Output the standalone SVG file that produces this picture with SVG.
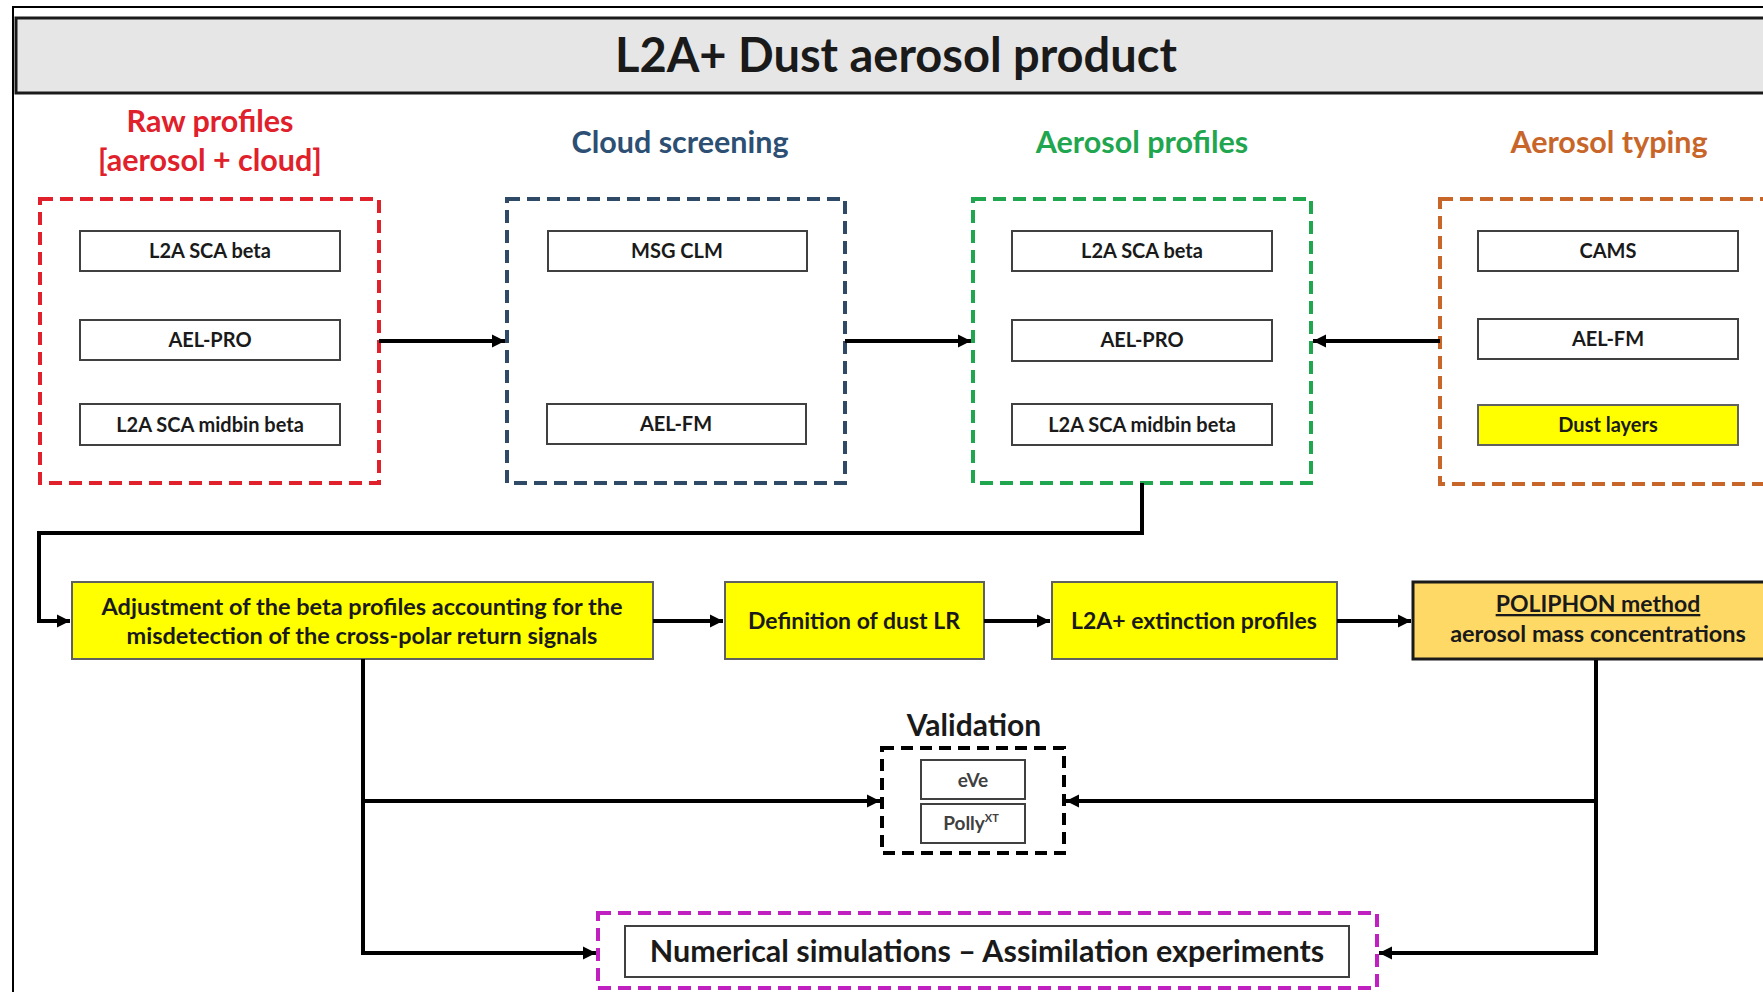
<svg xmlns="http://www.w3.org/2000/svg" width="1763" height="992" viewBox="0 0 1763 992">
<style>
text { font-family: Lato, "Liberation Sans", sans-serif; font-weight: bold; text-anchor: middle; fill: #1a1a1a; }
.frame { fill: none; stroke: #000; stroke-width: 2; }
.titlebar { fill: #e6e6e6; stroke: #1a1a1a; stroke-width: 3; }
.grp { fill: none; stroke-width: 4; stroke-dasharray: 13 7; }
.inner { fill: #fff; stroke: #404040; stroke-width: 2; }
.yel { fill: #ffff00; stroke: #606060; stroke-width: 2; }
.conn { fill: none; stroke: #000; stroke-width: 4; }
.t-in { font-size: 20px; }
.t-y { font-size: 23.5px; }
.t-h { font-size: 30.5px; }
</style>
<defs>
<marker id="ah" markerUnits="userSpaceOnUse" markerWidth="15" markerHeight="15" refX="13" refY="7.5" orient="auto">
<path d="M0,1 L13,7.5 L0,14 Z" fill="#000"/>
</marker>
</defs>
<rect width="1763" height="992" fill="#fff"/>
<rect class="frame" x="13" y="7" width="1800" height="1000"/>

<g id="title">
<rect class="titlebar" x="16" y="18" width="1800" height="75"/>
<text x="896" y="72" style="font-size:47px">L2A+ Dust aerosol product</text>
</g>

<g id="raw-profiles">
<text x="210" y="132" class="t-h" style="fill:#e0202a">Raw profiles</text>
<text x="210" y="171" class="t-h" style="fill:#e0202a">[aerosol + cloud]</text>
<rect class="grp" x="40" y="199" width="339" height="284" stroke="#e0202a"/>
<rect class="inner" x="80" y="231" width="260" height="40"/>
<text x="210" y="258" class="t-in">L2A SCA beta</text>
<rect class="inner" x="80" y="320" width="260" height="40"/>
<text x="210" y="347" class="t-in">AEL-PRO</text>
<rect class="inner" x="80" y="404" width="260" height="41"/>
<text x="210" y="432" class="t-in">L2A SCA midbin beta</text>
</g>

<g id="cloud-screening">
<text x="680" y="153" class="t-h" style="fill:#2c4f73">Cloud screening</text>
<rect class="grp" x="507" y="199" width="338" height="284" stroke="#2f4a66"/>
<rect class="inner" x="548" y="231" width="259" height="40"/>
<text x="677" y="258" class="t-in">MSG CLM</text>
<rect class="inner" x="547" y="404" width="259" height="40"/>
<text x="676" y="431" class="t-in">AEL-FM</text>
</g>

<g id="aerosol-profiles">
<text x="1142" y="153" class="t-h" style="fill:#1fa64f">Aerosol profiles</text>
<rect class="grp" x="973" y="199" width="338" height="284" stroke="#1fa64f"/>
<rect class="inner" x="1012" y="231" width="260" height="40"/>
<text x="1142" y="258" class="t-in">L2A SCA beta</text>
<rect class="inner" x="1012" y="320" width="260" height="41"/>
<text x="1142" y="347" class="t-in">AEL-PRO</text>
<rect class="inner" x="1012" y="404" width="260" height="41"/>
<text x="1142" y="432" class="t-in">L2A SCA midbin beta</text>
</g>

<g id="aerosol-typing">
<text x="1609" y="153" class="t-h" style="fill:#c8662a">Aerosol typing</text>
<rect class="grp" x="1440" y="199" width="400" height="285" stroke="#c8662a"/>
<rect class="inner" x="1478" y="231" width="260" height="40"/>
<text x="1608" y="258" class="t-in">CAMS</text>
<rect class="inner" x="1478" y="319" width="260" height="40"/>
<text x="1608" y="346" class="t-in">AEL-FM</text>
<rect class="yel" x="1478" y="405" width="260" height="40"/>
<text x="1608" y="432" class="t-in">Dust layers</text>
</g>

<g id="adjustment">
<rect class="yel" x="72" y="582" width="581" height="77"/>
<text x="362" y="615" class="t-y">Adjustment of the beta profiles accounting for the</text>
<text x="362" y="644" class="t-y">misdetection of the cross-polar return signals</text>
</g>

<g id="dust-lr">
<rect class="yel" x="725" y="582" width="259" height="77"/>
<text x="854" y="629" style="font-size:23px">Definition of dust LR</text>
</g>

<g id="extinction">
<rect class="yel" x="1052" y="582" width="285" height="77"/>
<text x="1194" y="629" style="font-size:23px">L2A+ extinction profiles</text>
</g>

<g id="poliphon">
<rect x="1413" y="582" width="400" height="77" fill="#ffd966" stroke="#1a1a1a" stroke-width="3"/>
<text x="1598" y="612" style="font-size:23px" text-decoration="underline">POLIPHON method</text>
<text x="1598" y="642" style="font-size:23.5px">aerosol mass concentrations</text>
</g>

<g id="validation">
<text x="974" y="736" style="font-size:30px">Validation</text>
<rect x="882" y="748" width="182" height="105" fill="none" stroke="#000" stroke-width="4" stroke-dasharray="12 7"/>
<rect class="inner" x="921" y="760" width="104" height="39"/>
<text x="973" y="787" style="font-size:19px;fill:#404040">eVe</text>
<rect class="inner" x="921" y="804" width="104" height="39"/>
<text x="971" y="830" style="font-size:19px;fill:#404040">Polly<tspan dy="-8" style="font-size:11px">XT</tspan></text>
</g>

<g id="numerical">
<rect x="598" y="913" width="779" height="75" fill="none" stroke="#c020c0" stroke-width="4" stroke-dasharray="13 7"/>
<rect class="inner" x="625" y="926" width="724" height="51"/>
<text x="987" y="962" style="font-size:30.5px">Numerical simulations – Assimilation experiments</text>
</g>

<g id="connectors">
<line class="conn" x1="379" y1="341" x2="505" y2="341" marker-end="url(#ah)"/>
<line class="conn" x1="845" y1="341" x2="971" y2="341" marker-end="url(#ah)"/>
<line class="conn" x1="1440" y1="341" x2="1313" y2="341" marker-end="url(#ah)"/>
<polyline class="conn" points="1142,483 1142,533 39,533 39,621 70,621" marker-end="url(#ah)"/>
<line class="conn" x1="653" y1="621" x2="723" y2="621" marker-end="url(#ah)"/>
<line class="conn" x1="984" y1="621" x2="1050" y2="621" marker-end="url(#ah)"/>
<line class="conn" x1="1337" y1="621" x2="1411" y2="621" marker-end="url(#ah)"/>
<line class="conn" x1="363" y1="659" x2="363" y2="953"/>
<line class="conn" x1="361" y1="801" x2="880" y2="801" marker-end="url(#ah)"/>
<line class="conn" x1="361" y1="953" x2="596" y2="953" marker-end="url(#ah)"/>
<line class="conn" x1="1596" y1="660" x2="1596" y2="953"/>
<line class="conn" x1="1598" y1="801" x2="1066" y2="801" marker-end="url(#ah)"/>
<line class="conn" x1="1598" y1="953" x2="1379" y2="953" marker-end="url(#ah)"/>
</g>
</svg>
